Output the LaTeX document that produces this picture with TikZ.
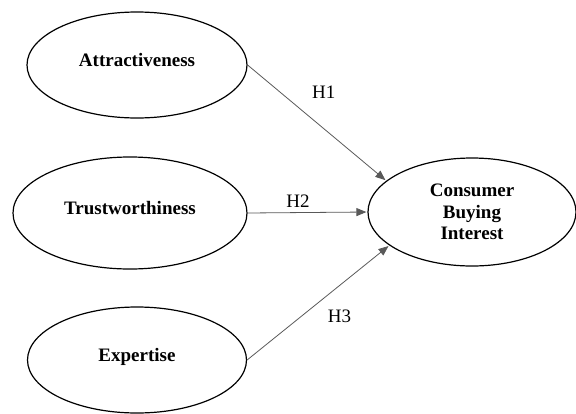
\documentclass[tikz,border=0pt]{standalone}
\usepackage{fontspec}
\setmainfont{Liberation Serif}
\usetikzlibrary{shapes,arrows.meta}

\begin{document}
\begin{tikzpicture}[
  x=1pt,y=-1pt,
  font=\fontsize{19}{21.6}\selectfont,
  construct/.style={draw,line width=1.2pt,ellipse,inner sep=0pt,font=\fontsize{19}{21.6}\selectfont\bfseries,
    text height=12pt,text depth=10pt},
  outcome/.style={draw,line width=1.2pt,ellipse,inner sep=0pt,align=center,font=\fontsize{19}{21.6}\selectfont\bfseries},
  hypothesis/.style={->,>={Triangle[length=10pt,width=8pt]},line width=0.8pt,gray!70!black,shorten >=1pt},
  hlabel/.style={text=black,font=\fontsize{19}{21.6}\selectfont}]

  \useasboundingbox (0,0) rectangle (576,413);

  % the three source constructs
  \node[construct,minimum width=220pt,minimum height=106pt] (attr) at (137,65) {Attractiveness};
  \node[construct,minimum width=234pt,minimum height=112pt] (trust) at (130,213) {Trustworthiness};
  \node[construct,minimum width=219pt,minimum height=106pt] (expert) at (137,360) {Expertise};

  % the dependent construct
  \node[outcome,minimum width=208pt,minimum height=108pt] (interest) at (472,212) {Consumer\\Buying\\Interest};

  % hypotheses
  \draw [hypothesis] (attr.east) -- node[hlabel,pos=0.55,yshift=36pt] {H1} (interest.160);
  \draw [hypothesis] (trust.east) -- node[hlabel,pos=0.42,yshift=11pt] {H2} (interest.west);
  \draw [hypothesis] (expert.east) -- node[hlabel,pos=0.65,yshift=-31pt] {H3} (interest.202);
\end{tikzpicture}
\end{document}
